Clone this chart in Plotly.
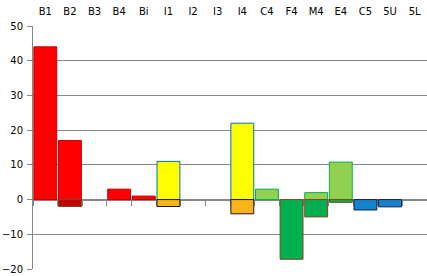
import plotly.graph_objects as go

categories = ["B1", "B2", "B3", "B4", "Bi", "I1", "I2", "I3", "I4",
              "C4", "F4", "M4", "E4", "C5", "5U", "5L"]
positive = [44, 17, None, 3, 1, 11, None, None, 22, 3, None, 2, 10.8, None, None, None]
negative = [None, -2, None, None, None, -2, None, None, -4.1, None, -17.2, -5, -0.8, -3, -2.1, None]

pos_fill = ["#FF0000", "#FF0000", "#FF0000", "#FF0000", "#FF0000",
            "#FFFF00", "#FFFF00", "#FFFF00", "#FFFF00",
            "#92D050", "#92D050", "#92D050", "#92D050",
            "#1283CD", "#1283CD", "#1283CD"]
pos_line = ["#C00000"] * 5 + ["#0070C0"] * 4 + ["#00B050"] * 4 + ["#1F1F4F"] * 3
neg_fill = ["#C00000"] * 5 + ["#F8B418"] * 4 + ["#00B050"] * 4 + ["#1283CD"] * 3
neg_line = ["#7A4A1E"] * 5 + ["#22163A"] * 4 + ["#7A4A1E"] * 4 + ["#1F1F4F"] * 3

yticks = [-20, -10, 0, 10, 20, 30, 40, 50]
grid = "#878787"
font = dict(family="DejaVu Sans", size=10, color="#000000")

fig = go.Figure()
fig.add_trace(go.Bar(x=categories, y=positive, width=0.93,
                     marker=dict(color=pos_fill, line=dict(color=pos_line, width=1))))
fig.add_trace(go.Bar(x=categories, y=negative, width=0.93,
                     marker=dict(color=neg_fill, line=dict(color=neg_line, width=1))))
# empty helper trace so the zero-line axis (ticks at category boundaries) is drawn
fig.add_trace(go.Scatter(x=[], y=[], xaxis="x2", yaxis="y", mode="markers",
                         showlegend=False, hoverinfo="skip"))

fig.update_layout(
    width=427, height=276,
    margin=dict(l=33, r=0, t=26, b=7),
    barmode="relative",
    showlegend=False,
    plot_bgcolor="white", paper_bgcolor="white",
    font=font,
    xaxis=dict(type="category", categoryarray=categories, range=[-0.5, 15.5],
               side="top", showline=False, showgrid=False, zeroline=False,
               ticks="", ticklabelstandoff=8),
    xaxis2=dict(overlaying="x", anchor="free", position=2 / 7, side="bottom",
                type="linear", range=[-0.5, 15.5], tick0=-0.5, dtick=1,
                showticklabels=False,
                showline=True, linecolor=grid, linewidth=1, ticks="outside",
                ticklen=5, tickcolor=grid, tickwidth=1, showgrid=False,
                zeroline=False, layer="below traces"),
    yaxis=dict(range=[-20, 50], tickvals=yticks, showgrid=True, gridcolor=grid,
               gridwidth=1, zeroline=False, showline=True, linecolor=grid,
               linewidth=1, ticks="outside", ticklen=5, tickcolor=grid,
               ticklabelstandoff=2),
)

fig.write_html("out.html")
